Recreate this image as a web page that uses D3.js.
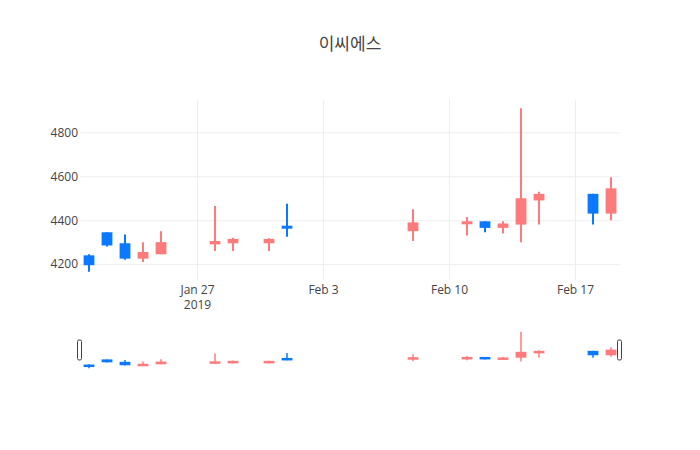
<!DOCTYPE html>
<html>
<head>
<meta charset="utf-8">
<script src="https://cdn.jsdelivr.net/npm/d3@7"></script>
<style>
  body { margin: 0; background: #fff; }
  text { font-family: "Open Sans", "Noto Sans CJK KR", sans-serif; fill: #444; }
</style>
</head>
<body>
<div id="chart"></div>
<script>
// data
const dates = ["2019-01-21","2019-01-22","2019-01-23","2019-01-24","2019-01-25",
  "2019-01-28","2019-01-29","2019-01-31","2019-02-01","2019-02-08",
  "2019-02-11","2019-02-12","2019-02-13","2019-02-14","2019-02-15",
  "2019-02-18","2019-02-19"];
const open  = [4240, 4345, 4295, 4225, 4245, 4290, 4295, 4295, 4375, 4350, 4385, 4395, 4365, 4380, 4490, 4520, 4430];
const high  = [4245, 4345, 4335, 4300, 4350, 4465, 4320, 4318, 4475, 4450, 4415, 4395, 4395, 4910, 4530, 4520, 4595];
const low   = [4165, 4280, 4220, 4210, 4245, 4260, 4260, 4260, 4325, 4305, 4330, 4345, 4340, 4300, 4380, 4380, 4400];
const close = [4195, 4285, 4225, 4255, 4300, 4305, 4315, 4315, 4365, 4390, 4395, 4365, 4385, 4500, 4520, 4430, 4545];
const yTicks = [4200, 4400, 4600, 4800];

const upColor = "#ff7b7b";   // close > open
const downColor = "#0a78ff"; // close < open

const data = dates.map((d, i) => ({
  date: new Date(d + "T00:00:00Z"),
  open: open[i], high: high[i], low: low[i], close: close[i]
}));

const width = 700, height = 450;
const margin = {top: 100, right: 80, left: 80};
const plotBottom = 280;
const sliderTop = 330, sliderBottom = 370;
const DAY = 864e5;

const svg = d3.select("#chart").append("svg")
  .attr("width", width).attr("height", height);

// scales
const xScale = d3.scaleUtc()
  .domain([new Date(+data[0].date - DAY / 2), new Date(+data[data.length - 1].date + DAY / 2)])
  .range([margin.left, width - margin.right]);

const yMin = d3.min(low), yMax = d3.max(high);
const pad = (yMax - yMin) * 0.05;
const yScale = d3.scaleLinear()
  .domain([yMin - pad, yMax + pad])
  .range([plotBottom, margin.top]);

const ySlider = yScale.copy().range([sliderBottom, sliderTop]);

const dayW = xScale(new Date(DAY * 2)) - xScale(new Date(DAY));
const bodyW = dayW * 0.6;

// title
svg.append("text")
  .attr("x", width / 2).attr("y", 50)
  .attr("text-anchor", "middle")
  .style("font-size", "17px")
  .text("이씨에스");

// grid + y axis
const yAxis = svg.append("g")
  .attr("transform", `translate(${margin.left},0)`)
  .call(d3.axisLeft(yScale).tickValues(yTicks).tickFormat(d3.format("d"))
    .tickSize(-(width - margin.left - margin.right)).tickPadding(2))
yAxis.select(".domain").remove();
yAxis.selectAll("line").attr("stroke", "#eee");
yAxis.selectAll("text").style("font-size", "12px").attr("fill", "#444");

// x axis
const xTickVals = xScale.ticks(d3.utcWeek.every(1));
const xAxis = svg.append("g")
  .attr("transform", `translate(0,${plotBottom})`)
  .call(d3.axisBottom(xScale).tickValues(xTickVals)
    .tickSize(-(plotBottom - margin.top)).tickPadding(5)
    .tickFormat(d3.utcFormat("%b %-d")));
xAxis.select(".domain").remove();
xAxis.selectAll("line").attr("stroke", "#eee");
xAxis.selectAll("text").style("font-size", "12px").attr("fill", "#444");
xAxis.selectAll(".tick").filter((d, i) => i === 0).select("text")
  .append("tspan").attr("x", 0).attr("dy", "1.3em").text("2019");

// candles
function drawCandles(g, y, wickW, bw) {
  const c = g.selectAll("g.candle").data(data).enter().append("g").attr("class", "candle");
  c.append("line")
    .attr("x1", d => xScale(d.date)).attr("x2", d => xScale(d.date))
    .attr("y1", d => y(d.high)).attr("y2", d => y(d.low))
    .attr("stroke", d => d.close >= d.open ? upColor : downColor)
    .attr("stroke-width", wickW);
  c.append("rect")
    .attr("x", d => xScale(d.date) - bw / 2)
    .attr("width", bw)
    .attr("y", d => y(Math.max(d.open, d.close)))
    .attr("height", d => Math.max(wickW + 1, Math.abs(y(d.open) - y(d.close))))
    .attr("fill", d => d.close >= d.open ? upColor : downColor);
}
drawCandles(svg.append("g"), yScale, 2, bodyW);

// range slider
const slider = svg.append("g");
drawCandles(slider, ySlider, 1.5, bodyW);
[margin.left, width - margin.right].forEach(x => {
  slider.append("rect")
    .attr("x", x - 2.5).attr("y", 340)
    .attr("width", 4).attr("height", 20)
    .attr("rx", 1.5)
    .attr("fill", "#fff").attr("stroke", "#444").attr("stroke-width", 1);
});
</script>
</body>
</html>
